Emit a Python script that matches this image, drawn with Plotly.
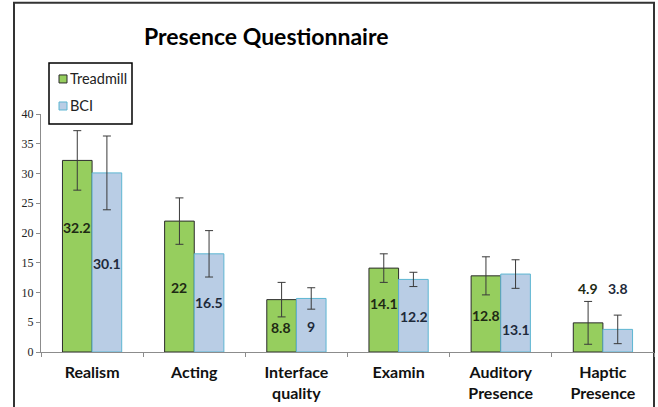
import plotly.graph_objects as go

categories = ["Realism", "Acting", "Interface<br>quality", "Examin", "Auditory<br>Presence", "Haptic<br>Presence"]
treadmill = [32.2, 22, 8.8, 14.1, 12.8, 4.9]
bci = [30.1, 16.5, 9, 12.2, 13.1, 3.8]
treadmill_err = [5.0, 3.9, 2.9, 2.4, 3.2, 3.6]
bci_err = [6.2, 3.9, 1.8, 1.2, 2.4, 2.4]
# vertical placement of the value labels (axis units), as seen in the original
treadmill_label_y = [20.9, 10.8, 4.2, 8.2, 6.2, 10.7]
bci_label_y = [14.9, 8.25, 4.3, 6.0, 3.8, 10.7]
series_names = ["Treadmill", "BCI"]

W, H = 658, 407
L, R, T, B = 41, 4, 114, 55.3
pw = W - L - R
ph = H - T - B

GREEN, GREEN_EDGE = "#96CE5E", "#2b2b2b"
BLUE, BLUE_EDGE = "#B9CDE5", "#5DB6D2"


def px(x):
    return (x - L) / pw


def py(y):
    return (H - B - y) / ph


fig = go.Figure()
fig.add_trace(go.Bar(
    name=series_names[0], x=categories, y=treadmill,
    marker=dict(color=GREEN, line=dict(color=GREEN_EDGE, width=1)),
    error_y=dict(type="data", array=treadmill_err, color="#3a3a3a", thickness=1, width=4),
))
fig.add_trace(go.Bar(
    name=series_names[1], x=categories, y=bci,
    marker=dict(color=BLUE, line=dict(color=BLUE_EDGE, width=1)),
    error_y=dict(type="data", array=bci_err, color="#3a3a3a", thickness=1, width=4),
))

ann = []
for i, c in enumerate(categories):
    ann.append(dict(x=c, y=treadmill_label_y[i], xref="x", yref="y", text=f"<b>{treadmill[i]:g}</b>",
                    showarrow=False, xshift=-15, yanchor="middle",
                    font=dict(size=14, color="#1e2a14", family="Lato")))
    ann.append(dict(x=c, y=bci_label_y[i], xref="x", yref="y", text=f"<b>{bci[i]:g}</b>",
                    showarrow=False, xshift=15, yanchor="middle",
                    font=dict(size=14, color="#1e2a3a", family="Lato")))

ann.append(dict(x=px(266), y=py(36), xref="paper", yref="paper",
                xanchor="center", yanchor="middle",
                text="<b>Presence Questionnaire</b>", showarrow=False,
                font=dict(size=23, color="black", family="Lato")))

shapes = [
    dict(type="rect", xref="paper", yref="paper",
         x0=px(14), x1=px(654), y0=py(412), y1=py(3),
         line=dict(color="#333", width=2), fillcolor="rgba(0,0,0,0)", layer="below"),
    # legend box
    dict(type="rect", xref="paper", yref="paper",
         x0=px(49), x1=px(132), y0=py(124), y1=py(63),
         line=dict(color="black", width=1.5), fillcolor="white", layer="above"),
]
for name, yc, fill, edge in [(series_names[0], 79, GREEN, "#2b2b2b"), (series_names[1], 106, BLUE, BLUE_EDGE)]:
    shapes.append(dict(type="rect", xref="paper", yref="paper",
                       x0=px(59), x1=px(67), y0=py(yc + 4), y1=py(yc - 4),
                       line=dict(color=edge, width=1), fillcolor=fill, layer="above"))
    ann.append(dict(x=px(68), y=py(yc), xref="paper", yref="paper", text=name,
                    showarrow=False, xanchor="left", yanchor="middle",
                    font=dict(size=14.5, family="Lato", color="#222")))

fig.update_layout(
    width=W, height=H,
    margin=dict(l=L, r=R, t=T, b=B, autoexpand=False),
    paper_bgcolor="white", plot_bgcolor="white",
    barmode="group", bargap=0.42, bargroupgap=0,
    annotations=ann, shapes=shapes,
    showlegend=False,
    xaxis=dict(
        showline=True, linecolor="#8c8c8c", linewidth=1,
        ticks="outside", tickson="boundaries", ticklen=4, tickcolor="#8c8c8c",
        tickfont=dict(size=16, family="Lato", color="#111"),
        ticklabelstandoff=6,
        showgrid=False, range=[-0.5, 5.5],
        tickvals=categories, ticktext=[f"<b>{c}</b>" for c in categories],
    ),
    yaxis=dict(
        range=[0, 40], dtick=5, showline=True, linecolor="#8c8c8c", linewidth=1,
        ticks="outside", ticklen=4, tickcolor="#8c8c8c", showgrid=False, zeroline=False,
        tickfont=dict(size=12, family="Liberation Serif", color="#222"),
    ),
)

fig.write_html("out.html", config={"displayModeBar": False},
               post_script="document.body.style.margin='0';document.body.style.overflow='hidden';")
